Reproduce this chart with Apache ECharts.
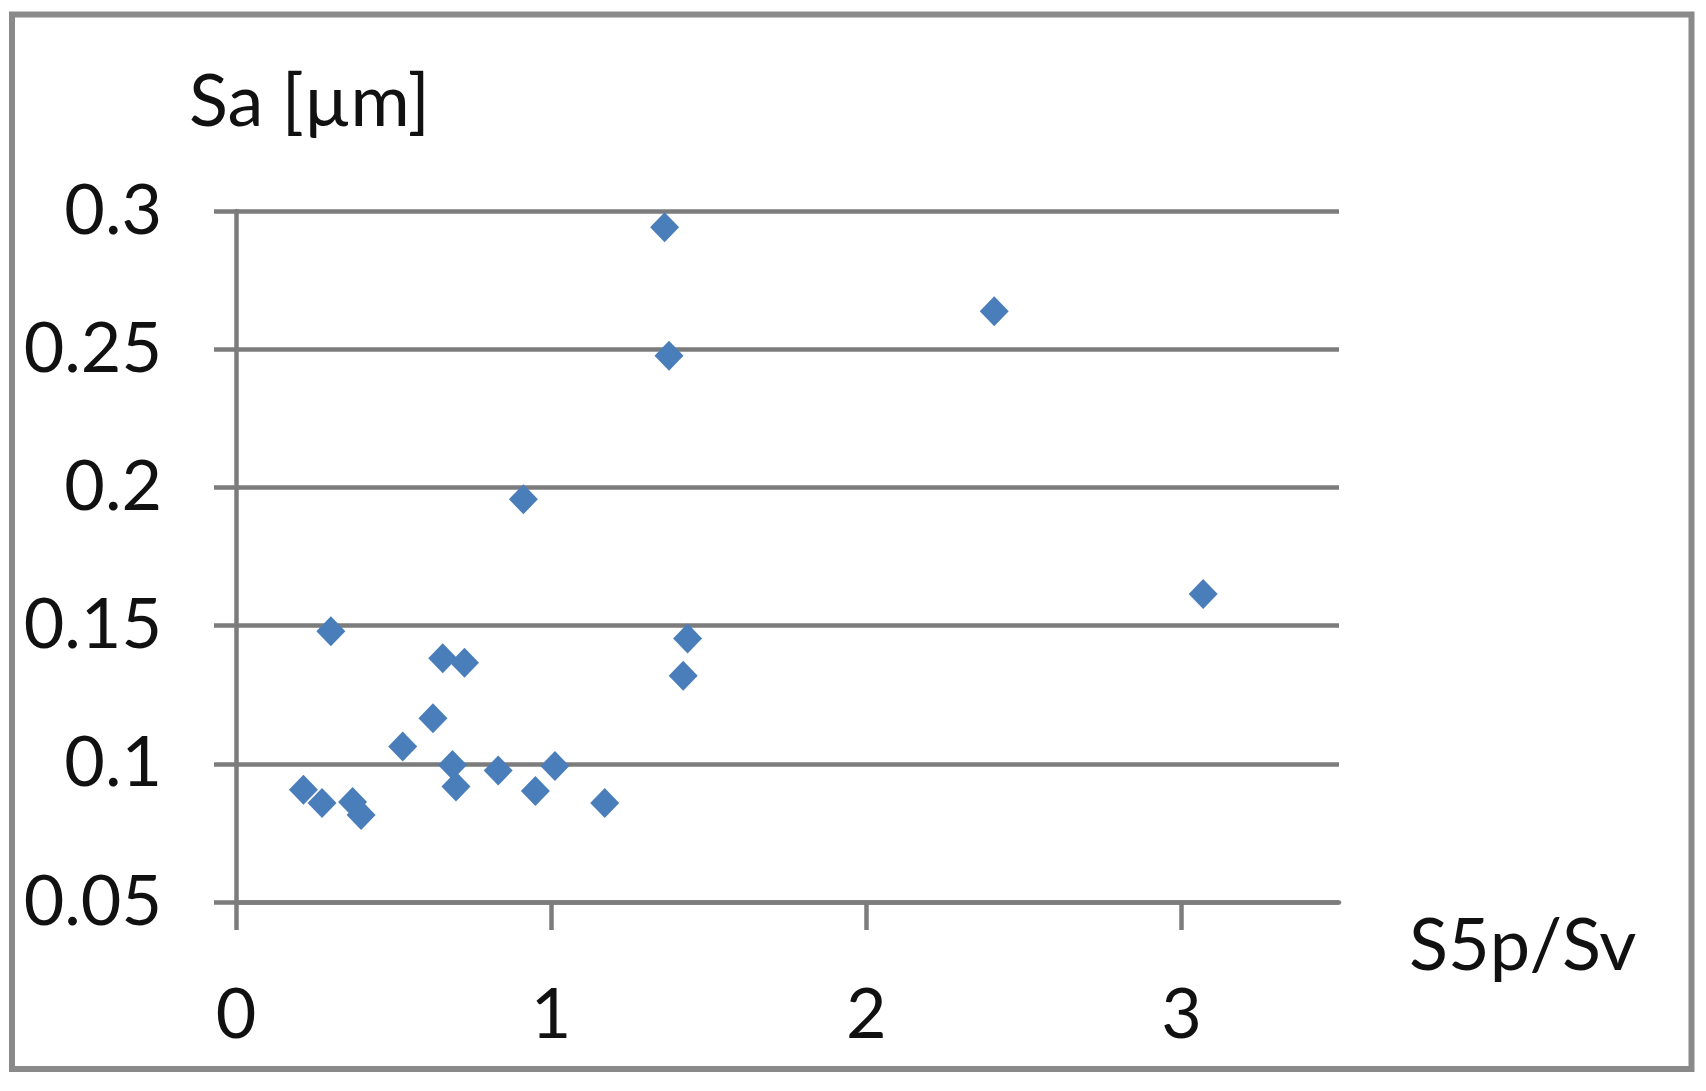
<!DOCTYPE html>
<html>
<head>
<meta charset="utf-8">
<script src="https://cdn.jsdelivr.net/npm/echarts@6/dist/echarts.min.js"></script>
<style>
html,body{margin:0;padding:0;background:#fff;}
#chart{width:1706px;height:1091px;}
</style>
</head>
<body>
<div id="chart"></div>
<script>
// Data
const s5pSv = [0.214, 0.273, 0.301, 0.370, 0.397, 0.529, 0.625, 0.656, 0.725, 0.687, 0.698,
               0.832, 0.912, 0.950, 1.012, 1.170, 1.360, 1.374, 1.433, 1.419, 2.406, 3.069];
const sa    = [0.0906, 0.0858, 0.1480, 0.0862, 0.0815, 0.1063, 0.1165, 0.1382, 0.1366, 0.0996, 0.0918,
               0.0976, 0.1957, 0.0902, 0.0992, 0.0858, 0.2941, 0.2476, 0.1453, 0.1319, 0.2637, 0.1614];
const xTicks = [0, 1, 2, 3];
const yTicks = [0.05, 0.1, 0.15, 0.2, 0.25, 0.3];
const xAxisName = 'S5p/Sv';
const yAxisName = 'Sa [µm]';

const points = s5pSv.map((x, i) => [x, sa[i]]);
const FONT = 'Lato';
const GRAY = '#7c7c7c';
const TEXT = '#111111';

const chart = echarts.init(document.getElementById('chart'), null, {renderer: 'canvas'});
chart.setOption({
  animation: false,
  backgroundColor: '#ffffff',
  title: [
    {text: yAxisName, left: 184, top: 62,
     textStyle: {fontFamily: FONT, fontSize: 72, fontWeight: 'normal', color: TEXT, lineHeight: 72}},
    {text: xAxisName, left: 1404, top: 906,
     textStyle: {fontFamily: FONT, fontSize: 72, fontWeight: 'normal', color: TEXT, lineHeight: 72}}
  ],
  graphic: [{
    type: 'rect', silent: true,
    shape: {x: 12, y: 14.5, width: 1679.5, height: 1054.5},
    style: {fill: 'none', stroke: '#8a8a8a', lineWidth: 6}
  }],
  grid: {left: 236, right: 367, top: 211, bottom: 189, containLabel: false},
  xAxis: {
    type: 'value',
    min: 0, max: 3.5, interval: 1,
    axisLine: {show: true, onZero: false, lineStyle: {color: GRAY, width: 4.5}},
    axisTick: {show: true, length: 28, inside: false, customValues: xTicks, lineStyle: {color: GRAY, width: 4.5}},
    axisLabel: {show: true, customValues: xTicks, margin: 78, fontFamily: FONT, fontSize: 70,
                lineHeight: 70, color: TEXT},
    splitLine: {show: false}
  },
  yAxis: {
    type: 'value',
    min: 0.05, max: 0.3, interval: 0.05,
    axisLine: {show: true, onZero: false, lineStyle: {color: GRAY, width: 4.5}},
    axisTick: {show: true, length: 22, inside: false, customValues: yTicks, lineStyle: {color: GRAY, width: 4.5}},
    axisLabel: {show: true, customValues: yTicks, margin: 74, fontFamily: FONT, fontSize: 70,
                color: TEXT, formatter: v => String(+v.toFixed(2))},
    splitLine: {show: true, lineStyle: {color: GRAY, width: 4.5}}
  },
  series: [{
    type: 'scatter',
    data: points,
    symbol: 'diamond',
    symbolSize: [29, 30],
    itemStyle: {color: '#4a7ebb', opacity: 1},
    z: 5
  }]
});
</script>
</body>
</html>
